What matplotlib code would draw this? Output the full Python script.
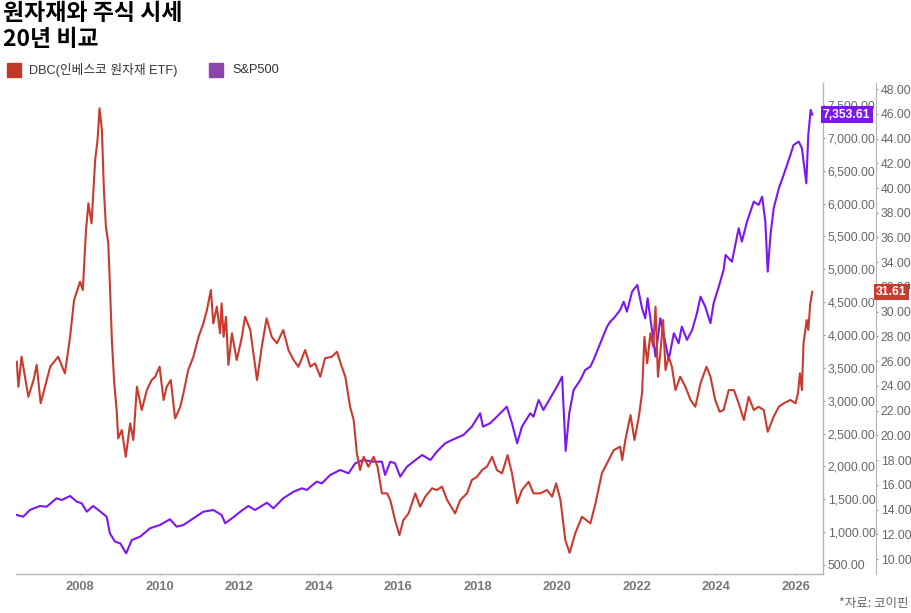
import matplotlib
matplotlib.use('Agg')
import matplotlib.pyplot as plt
import matplotlib.transforms as mtransforms
from matplotlib.patches import Rectangle
from matplotlib.ticker import FuncFormatter

plt.rcParams['font.family'] = ['Liberation Sans', 'Noto Sans CJK KR', 'DejaVu Sans']

TITLE_1 = '원자재와 주식 시세'
TITLE_2 = '20년 비교'
SOURCE = '*자료: 코이핀'
DBC_NAME = 'DBC(인베스코 원자재 ETF)'
SPX_NAME = 'S&P500'

# DBC (right outer axis)
dbc_t = [2006.41, 2006.45, 2006.53, 2006.70, 2006.83, 2006.91, 2007.01, 2007.25, 2007.45, 2007.62,
         2007.75, 2007.85, 2008.00, 2008.07, 2008.15, 2008.21, 2008.29, 2008.38, 2008.44, 2008.49,
         2008.55, 2008.60, 2008.65, 2008.71, 2008.75, 2008.80, 2008.86, 2008.92, 2008.96, 2009.05,
         2009.15, 2009.26, 2009.34, 2009.43, 2009.55, 2009.68, 2009.80, 2009.89, 2010.00, 2010.10,
         2010.18, 2010.28, 2010.39, 2010.52, 2010.60, 2010.72, 2010.85, 2010.98, 2011.10, 2011.19,
         2011.29, 2011.35, 2011.44, 2011.52, 2011.56, 2011.61, 2011.67, 2011.73, 2011.82, 2011.94,
         2012.07, 2012.15, 2012.28, 2012.45, 2012.57, 2012.69, 2012.82, 2012.95, 2013.11, 2013.24,
         2013.37, 2013.49, 2013.56, 2013.66, 2013.79, 2013.91, 2014.04, 2014.16, 2014.33, 2014.46,
         2014.58, 2014.67, 2014.79, 2014.88, 2014.96, 2015.04, 2015.13, 2015.25, 2015.38, 2015.48,
         2015.59, 2015.72, 2015.80, 2015.92, 2016.03, 2016.13, 2016.26, 2016.43, 2016.55, 2016.68,
         2016.85, 2016.97, 2017.10, 2017.23, 2017.43, 2017.56, 2017.73, 2017.85, 2017.98, 2018.11,
         2018.23, 2018.36, 2018.48, 2018.61, 2018.75, 2018.86, 2018.99, 2019.11, 2019.28, 2019.40,
         2019.57, 2019.74, 2019.87, 2019.97, 2020.08, 2020.20, 2020.31, 2020.45, 2020.62, 2020.83,
         2020.96, 2021.12, 2021.29, 2021.42, 2021.58, 2021.63, 2021.71, 2021.84, 2021.94, 2022.05,
         2022.13, 2022.19, 2022.26, 2022.34, 2022.41, 2022.47, 2022.53, 2022.59, 2022.66, 2022.72,
         2022.80, 2022.88, 2022.97, 2023.09, 2023.22, 2023.35, 2023.47, 2023.60, 2023.75, 2023.85,
         2023.97, 2024.08, 2024.18, 2024.31, 2024.44, 2024.56, 2024.69, 2024.81, 2024.94, 2025.06,
         2025.19, 2025.29, 2025.44, 2025.57, 2025.69, 2025.86, 2025.99, 2026.05, 2026.10, 2026.15,
         2026.19, 2026.27, 2026.31, 2026.36, 2026.41]
dbc_v = [25.95, 23.93, 26.36, 23.12, 24.47, 25.69, 22.59, 25.55, 26.36, 25.01,
         27.97, 30.94, 32.42, 31.75, 36.60, 38.76, 37.14, 42.26, 43.88, 46.44,
         44.69, 39.84, 36.87, 35.53, 32.29, 27.71, 24.21, 22.05, 19.76, 20.43,
         18.27, 20.97, 19.62, 23.93, 22.05, 23.66, 24.47, 24.74, 25.55, 22.86,
         23.93, 24.47, 21.37, 22.31, 23.40, 25.28, 26.36, 27.97, 29.05, 30.13,
         31.75, 29.05, 30.40, 28.25, 30.67, 27.97, 29.59, 25.69, 28.25, 26.09,
         27.97, 29.59, 28.52, 24.47, 27.17, 29.46, 27.97, 27.44, 28.52, 26.90,
         26.09, 25.55, 26.09, 26.90, 25.55, 25.82, 24.74, 26.23, 26.36, 26.76,
         25.55, 24.74, 22.31, 21.24, 18.55, 17.20, 18.27, 17.46, 18.27, 17.46,
         15.31, 15.31, 14.77, 13.15, 11.94, 13.15, 13.69, 15.31, 14.23, 15.04,
         15.72, 15.58, 15.85, 14.77, 13.69, 14.77, 15.31, 16.39, 16.65, 17.20,
         17.46, 18.27, 17.20, 16.93, 18.41, 16.93, 14.50, 15.58, 16.25, 15.31,
         15.31, 15.58, 15.04, 16.12, 14.77, 11.54, 10.50, 12.08, 13.42, 12.88,
         14.50, 16.93, 18.00, 18.81, 19.08, 18.00, 19.62, 21.64, 19.62, 21.51,
         23.40, 27.97, 25.82, 28.25, 27.17, 30.40, 24.74, 26.63, 29.32, 25.28,
         26.36, 25.55, 23.66, 24.74, 23.93, 22.86, 22.31, 24.21, 25.55, 24.74,
         22.86, 21.91, 22.05, 23.66, 23.66, 22.59, 21.24, 23.12, 22.05, 22.31,
         22.05, 20.29, 21.51, 22.31, 22.59, 22.86, 22.59, 23.40, 25.01, 23.66,
         27.44, 29.32, 28.52, 30.67, 31.61]

# S&P500 (right inner axis)
spx_t = [2006.41, 2006.57, 2006.74, 2006.99, 2007.16, 2007.41, 2007.54, 2007.75, 2007.92, 2008.04,
         2008.17, 2008.33, 2008.46, 2008.67, 2008.75, 2008.88, 2009.01, 2009.16, 2009.30, 2009.51,
         2009.76, 2010.01, 2010.26, 2010.43, 2010.60, 2010.85, 2011.10, 2011.35, 2011.56, 2011.65,
         2011.82, 2012.03, 2012.23, 2012.40, 2012.70, 2012.86, 2013.11, 2013.37, 2013.58, 2013.70,
         2013.95, 2014.08, 2014.29, 2014.54, 2014.75, 2014.92, 2015.13, 2015.38, 2015.59, 2015.67,
         2015.80, 2015.92, 2016.05, 2016.22, 2016.38, 2016.60, 2016.81, 2016.97, 2017.18, 2017.39,
         2017.64, 2017.85, 2018.06, 2018.13, 2018.31, 2018.48, 2018.73, 2018.86, 2018.99, 2019.11,
         2019.32, 2019.40, 2019.53, 2019.65, 2019.82, 2019.99, 2020.12, 2020.21, 2020.30, 2020.41,
         2020.58, 2020.70, 2020.83, 2020.91, 2021.08, 2021.25, 2021.33, 2021.42, 2021.58, 2021.67,
         2021.75, 2021.88, 2022.01, 2022.13, 2022.21, 2022.27, 2022.38, 2022.47, 2022.59, 2022.72,
         2022.80, 2022.93, 2023.05, 2023.13, 2023.26, 2023.39, 2023.51, 2023.60, 2023.72, 2023.85,
         2023.93, 2024.06, 2024.18, 2024.23, 2024.39, 2024.56, 2024.64, 2024.77, 2024.94, 2025.06,
         2025.15, 2025.23, 2025.29, 2025.36, 2025.44, 2025.57, 2025.69, 2025.86, 2025.94, 2026.07,
         2026.15, 2026.26, 2026.31, 2026.37, 2026.41]
spx_v = [1261, 1235, 1337, 1398, 1387, 1515, 1489, 1550, 1463, 1439,
         1311, 1398, 1337, 1235, 982, 855, 830, 678, 880, 931,
         1059, 1109, 1196, 1083, 1109, 1211, 1311, 1337, 1261, 1135,
         1211, 1311, 1398, 1337, 1448, 1363, 1515, 1616, 1667, 1642,
         1768, 1743, 1870, 1946, 1896, 2048, 2098, 2072, 2072, 1870,
         2072, 2048, 1844, 1996, 2072, 2174, 2098, 2224, 2352, 2413,
         2479, 2605, 2809, 2605, 2657, 2757, 2909, 2657, 2352, 2605,
         2809, 2757, 3011, 2859, 3037, 3214, 3366, 2237, 2809, 3164,
         3316, 3468, 3518, 3620, 3874, 4127, 4203, 4255, 4381, 4507,
         4355, 4660, 4762, 4407, 4255, 4559, 4077, 3670, 4255, 3874,
         3620, 4027, 3874, 4127, 3925, 4077, 4331, 4583, 4431, 4180,
         4483, 4736, 4990, 5218, 5116, 5625, 5421, 5725, 6030, 5979,
         6106, 5725, 4964, 5523, 5929, 6233, 6436, 6740, 6892, 6943,
         6842, 6309, 7045, 7425, 7353.61]

year_ticks = list(range(2008, 2027, 2))
spx_ticks = list(range(500, 7501, 500))
dbc_ticks = list(range(10, 49, 2))

RED = '#c93a2f'
PURPLE = '#7b17f0'
RED_SWATCH = '#c0392b'
PURPLE_SWATCH = '#8e44ad'
AXIS_GRAY = '#b5b5b5'
LABEL_GRAY = '#666666'

W, H = 912, 613
fig = plt.figure(figsize=(W / 100, H / 100), dpi=100)
ax = fig.add_axes([16 / W, 1 - 574 / H, (823 - 16) / W, (574 - 83) / H])
ax2 = ax.twinx()

ax.plot(spx_t, spx_v, color=PURPLE, lw=1.5, solid_joinstyle='round')
ax.set_xlim(2006.39, 2026.68)
ax.set_ylim(363, 7835)
ax.yaxis.tick_right()
ax.set_yticks(spx_ticks)
ax.yaxis.set_major_formatter(FuncFormatter(lambda v, p: f'{v:,.2f}'))
ax.set_xticks(year_ticks)
ax.xaxis.set_major_formatter(FuncFormatter(lambda v, p: f'{int(v)}'))

for s in ['top', 'left']:
    ax.spines[s].set_visible(False)
for s in ['bottom', 'right']:
    ax.spines[s].set_color(AXIS_GRAY)
    ax.spines[s].set_linewidth(1)

ax.tick_params(axis='y', length=1.5, width=0.8, color='#999999', pad=2,
               labelsize=8.7, labelcolor=LABEL_GRAY)
ax.tick_params(axis='x', length=1.5, width=0.8, color='#cccccc', pad=3.5,
               labelsize=9.3, labelcolor='#777777')
for lab in ax.get_xticklabels():
    lab.set_fontweight('bold')

ax2.plot(dbc_t, dbc_v, color=RED, lw=1.5, solid_joinstyle='round')
ax2.set_ylim(8.79, 48.49)
ax2.spines['right'].set_position(('axes', (876 - 16) / (823 - 16)))
ax2.set_yticks(dbc_ticks)
ax2.yaxis.set_major_formatter(FuncFormatter(lambda v, p: f'{v:.2f}'))
for s in ['top', 'left', 'bottom']:
    ax2.spines[s].set_visible(False)
ax2.spines['right'].set_color(AXIS_GRAY)
ax2.tick_params(axis='y', length=1.5, width=0.8, color='#999999', pad=2,
                labelsize=8.7, labelcolor=LABEL_GRAY)

# last value badges
tr_spx = mtransforms.blended_transform_factory(ax.transAxes, ax.transData)
ax2.text(1.0, spx_v[-1], f'{spx_v[-1]:,.2f}', transform=tr_spx, ha='left', va='center',
         color='white', fontsize=8.7, fontweight='bold', zorder=10,
         bbox=dict(boxstyle='square,pad=0.18', fc=PURPLE, ec='none'))
tr_dbc = mtransforms.blended_transform_factory(ax2.transAxes, ax2.transData)
ax2.text((876 - 16) / (823 - 16), dbc_v[-1], f'{dbc_v[-1]:.2f}', transform=tr_dbc,
         ha='left', va='center', color='white', fontsize=8.7, fontweight='bold', zorder=10,
         bbox=dict(boxstyle='square,pad=0.18', fc=RED, ec='none'))

# title
fig.text(3 / W, 1 - 14 / H, TITLE_1, fontsize=16.5, fontweight='bold', va='center',
         family=['Noto Sans CJK KR'])
fig.text(3 / W, 1 - 39 / H, TITLE_2, fontsize=16.5, fontweight='bold', va='center',
         family=['Noto Sans CJK KR'])

# legend
fig.add_artist(Rectangle((7 / W, 1 - 77 / H), 14 / W, 14 / H, transform=fig.transFigure,
                         color=RED_SWATCH))
fig.text(29 / W, 1 - 70 / H, DBC_NAME, fontsize=9.2, va='center', color='#333333')
fig.add_artist(Rectangle((209 / W, 1 - 77 / H), 14 / W, 14 / H, transform=fig.transFigure,
                         color=PURPLE_SWATCH))
fig.text(232 / W, 1 - 70 / H, SPX_NAME, fontsize=9.2, va='center', color='#333333')

fig.text(909 / W, 1 - 604 / H, SOURCE, fontsize=9, ha='right', va='center',
         color=LABEL_GRAY, family=['Noto Sans CJK KR'])

fig.savefig('out.png', dpi=100)
